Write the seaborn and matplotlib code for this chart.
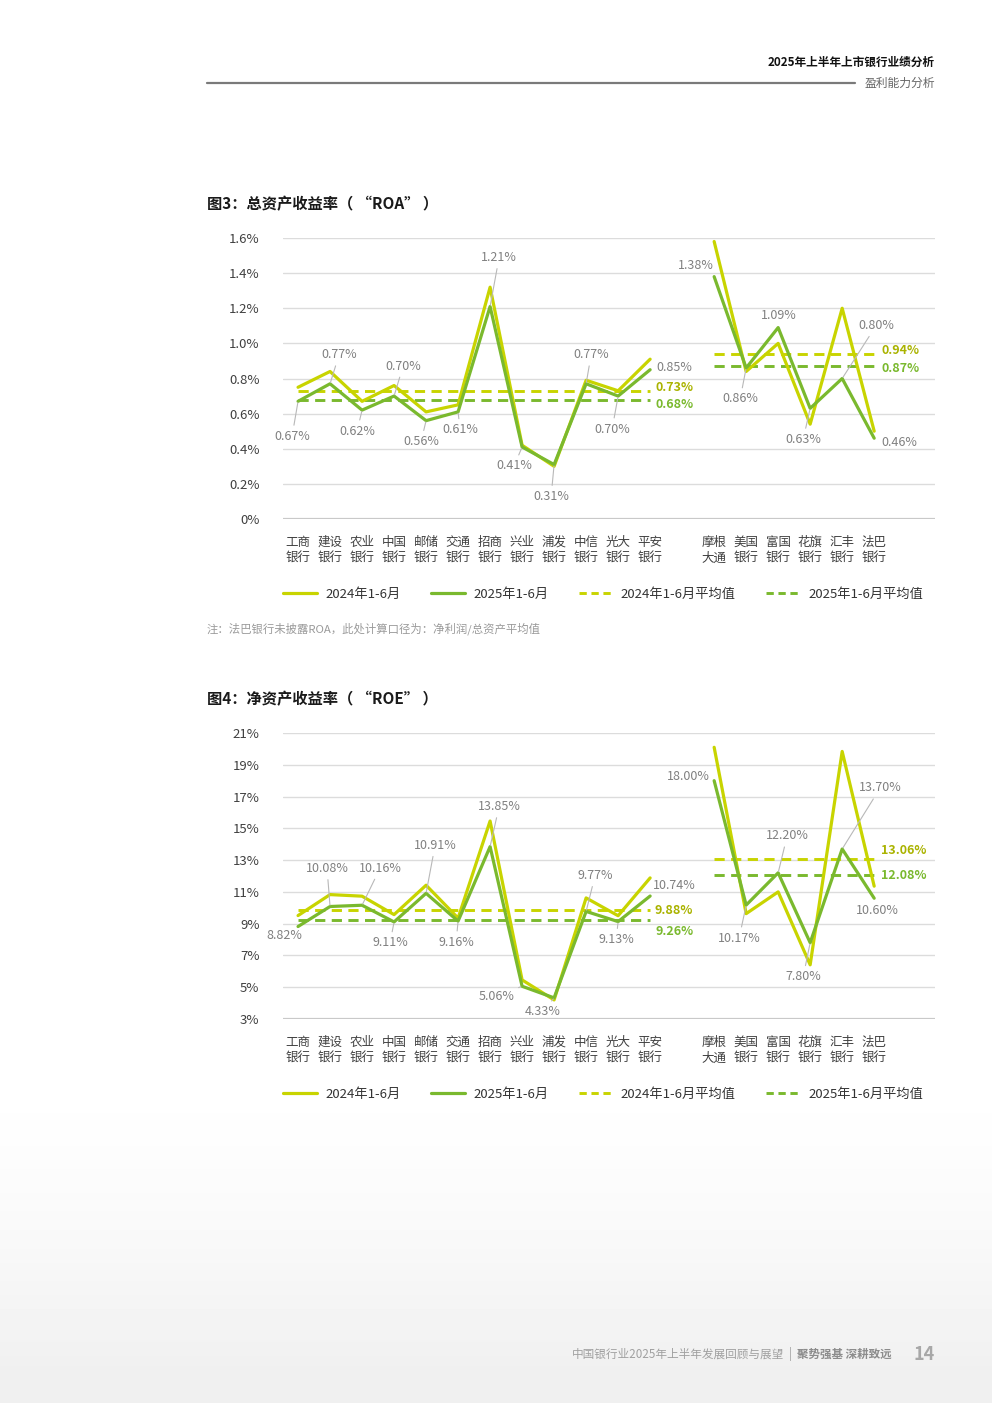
import numpy as np
import pandas as pd
import matplotlib.pyplot as plt
from matplotlib.lines import Line2D
import seaborn as sns

sns.set_style('white')
plt.rcParams['font.family'] = ['Noto Sans CJK SC', 'DejaVu Sans']

# ---- data ----
banks_cn = ['工商\n银行', '建设\n银行', '农业\n银行', '中国\n银行', '邮储\n银行', '交通\n银行',
            '招商\n银行', '兴业\n银行', '浦发\n银行', '中信\n银行', '光大\n银行', '平安\n银行']
banks_fr = ['摩根\n大通', '美国\n银行', '富国\n银行', '花旗\n银行', '汇丰\n银行', '法巴\n银行']

roa_2024_cn = [0.75, 0.84, 0.67, 0.76, 0.61, 0.65, 1.32, 0.42, 0.30, 0.79, 0.73, 0.91]
roa_2025_cn = [0.67, 0.77, 0.62, 0.70, 0.56, 0.61, 1.21, 0.41, 0.31, 0.77, 0.70, 0.85]
roa_2024_fr = [1.58, 0.84, 1.00, 0.54, 1.20, 0.50]
roa_2025_fr = [1.38, 0.86, 1.09, 0.63, 0.80, 0.46]
roa_avg_cn = [0.73, 0.68]   # 2024, 2025
roa_avg_fr = [0.94, 0.87]

roe_2024_cn = [9.51, 10.83, 10.73, 9.57, 11.42, 9.35, 15.46, 5.46, 4.20, 10.62, 9.50, 11.88]
roe_2025_cn = [8.82, 10.08, 10.16, 9.11, 10.91, 9.16, 13.85, 5.06, 4.33, 9.77, 9.13, 10.74]
roe_2024_fr = [20.10, 9.63, 11.00, 6.41, 19.84, 11.36]
roe_2025_fr = [18.00, 10.17, 12.20, 7.80, 13.70, 10.60]
roe_avg_cn = [9.88, 9.26]
roe_avg_fr = [13.06, 12.08]

roa_ticks = [0, 0.2, 0.4, 0.6, 0.8, 1.0, 1.2, 1.4, 1.6]
roa_ticklabels = ['0%', '0.2%', '0.4%', '0.6%', '0.8%', '1.0%', '1.2%', '1.4%', '1.6%']
roe_ticks = [3, 5, 7, 9, 11, 13, 15, 17, 19, 21]
roe_ticklabels = ['3%', '5%', '7%', '9%', '11%', '13%', '15%', '17%', '19%', '21%']

series = ['2024年1-6月', '2025年1-6月', '2024年1-6月平均值', '2025年1-6月平均值']

# label offsets (pixels) for the 2025 values, and whether a leader line is drawn
roa_lab_cn = [(-6, -35, 1), (9, 29, 1), (-5, -21, 1), (9, 30, 1), (-5, -21, 1), (2, -18, 1),
              (9, 49, 1), (-8, -19, 1), (-3, -32, 1), (5, 29, 1), (-6, -33, 1), (24, 2, 0)]
roa_lab_fr = [(-18, 11, 0), (-6, -31, 1), (1, 12, 0), (-7, -31, 1), (34, 53, 1), (25, -4, 0)]
roe_lab_cn = [(-14, -9, 0), (-3, 38, 1), (18, 37, 1), (-4, -21, 1), (9, 48, 1), (-2, -21, 1),
              (9, 40, 1), (-26, -10, 1), (-11, -14, 1), (9, 36, 1), (-2, -18, 1), (24, 11, 0)]
roe_lab_fr = [(-26, 4, 0), (-7, -33, 1), (9, 37, 1), (-7, -34, 1), (38, 61, 1), (3, -12, 0)]
roa_avg_lab = [(24, 3), (24, -5), (26, 3), (26, -2)]
roe_avg_lab = [(24, -1), (24, -12), (30, 9), (30, -1)]

C24 = '#c8d400'
C25 = '#7ab92e'
C24_TXT = '#aab300'
LABEL = '#808080'

pos_cn = list(range(12))
pos_fr = list(range(13, 19))


def draw_panel(ax, v24cn, v25cn, v24fr, v25fr, avg_cn, avg_fr, ticks, ticklabels,
               lab_cn, lab_fr, avg_lab, fmt):
    df = pd.DataFrame({
        'pos': pos_cn + pos_fr + pos_cn + pos_fr,
        'value': v24cn + v24fr + v25cn + v25fr,
        'series': [series[0]] * 18 + [series[1]] * 18,
        'seg': (['cn'] * 12 + ['fr'] * 6) * 2,
    })
    # grid
    for t in ticks:
        ax.axhline(t, color='#c9c9c9' if t == ticks[0] else '#dcdcdc',
                   lw=1.6 if t == ticks[0] else 1.0, zorder=0)
    # averages
    for (a24, a25), pos in [(avg_cn, pos_cn), (avg_fr, pos_fr)]:
        ax.plot([pos[0], pos[-1]], [a24, a24], color=C24, lw=2.1, ls=(0, (3.5, 2.2)), zorder=2)
        ax.plot([pos[0], pos[-1]], [a25, a25], color=C25, lw=2.1, ls=(0, (3.5, 2.2)), zorder=2)
    sns.lineplot(data=df, x='pos', y='value', hue='series', units='seg', estimator=None,
                 palette={series[0]: C24, series[1]: C25}, lw=2.3, legend=False,
                 ax=ax, zorder=3, clip_on=False)
    # value labels
    for pos, vals, labs in [(pos_cn, v25cn, lab_cn), (pos_fr, v25fr, lab_fr)]:
        for x, v, (dx, dy, lead) in zip(pos, vals, labs):
            ap = dict(arrowstyle='-', color='#b8b8b8', lw=0.8, shrinkA=1, shrinkB=1) if lead else None
            ax.annotate(fmt.format(v), xy=(x, v), xytext=(dx, dy), textcoords='offset pixels',
                        ha='center', va='center', fontsize=9, color=LABEL, arrowprops=ap, zorder=5)
    avg_vals = [(pos_cn[-1], avg_cn[0], C24_TXT), (pos_cn[-1], avg_cn[1], C25),
                (pos_fr[-1], avg_fr[0], C24_TXT), (pos_fr[-1], avg_fr[1], C25)]
    for (x, v, c), (dx, dy) in zip(avg_vals, avg_lab):
        ax.annotate(fmt.format(v), xy=(x, v), xytext=(dx, dy), textcoords='offset pixels',
                    ha='center', va='center', fontsize=9, color=c, fontweight='bold', zorder=5)

    ax.set_xlim(-0.47, 19.9)
    ax.set_ylim(ticks[0], ticks[-1])
    ax.set_yticks(ticks)
    ax.set_yticklabels(ticklabels, fontsize=9.5, color='#404040')
    ax.set_xticks(pos_cn + pos_fr)
    ax.set_xticklabels(banks_cn + banks_fr, fontsize=9, color='#404040', linespacing=1.3)
    ax.tick_params(axis='y', length=0, pad=17)
    ax.tick_params(axis='x', length=0, pad=12)
    ax.set_xlabel('')
    ax.set_ylabel('')
    sns.despine(ax=ax, left=True, bottom=True)
    ax.set_facecolor('none')


fig = plt.figure(figsize=(9.92, 14.03), dpi=100)
W, H = 992.0, 1403.0

# soft background at the bottom of the page
bg = fig.add_axes([0, 0, 1, 1], zorder=-10)
rows = np.linspace(0, 1, 300)
shade = np.clip((rows - 0.76) / 0.22, 0, 1) ** 1.5
img = 1 - 0.06 * shade[:, None] * np.ones((1, 50))
bg.imshow(img, cmap='gray', vmin=0, vmax=1, aspect='auto', extent=[0, 1, 1, 0])
bg.set_axis_off()


def fx(x):
    return x / W


def fy(y):
    return 1 - y / H


ax1 = fig.add_axes([fx(283), fy(519), fx(935) - fx(283), (519 - 238) / H])
draw_panel(ax1, roa_2024_cn, roa_2025_cn, roa_2024_fr, roa_2025_fr, roa_avg_cn, roa_avg_fr,
           roa_ticks, roa_ticklabels, roa_lab_cn, roa_lab_fr, roa_avg_lab, '{:.2f}%')

ax2 = fig.add_axes([fx(283), fy(1019), fx(935) - fx(283), (1019 - 733) / H])
draw_panel(ax2, roe_2024_cn, roe_2025_cn, roe_2024_fr, roe_2025_fr, roe_avg_cn, roe_avg_fr,
           roe_ticks, roe_ticklabels, roe_lab_cn, roe_lab_fr, roe_avg_lab, '{:.2f}%')

# legends
handles = [Line2D([], [], color=C24, lw=2.3), Line2D([], [], color=C25, lw=2.3),
           Line2D([], [], color=C24, lw=2.1, ls=(0, (2.5, 1.6))),
           Line2D([], [], color=C25, lw=2.1, ls=(0, (2.5, 1.6)))]
for ly in [594, 1094]:
    fig.legend(handles, series, loc='center left', bbox_to_anchor=(fx(283), fy(ly)), ncol=4,
               frameon=False, fontsize=9.5, handlelength=2.6, handletextpad=0.6,
               columnspacing=2.3, borderpad=0, borderaxespad=0,
               labelcolor='#333333')

# titles and notes
fig.text(fx(207), fy(204), '图3：总资产收益率（ “ROA” ）', fontsize=11, fontweight='bold',
         color='#1a1a1a', va='center', ha='left')
fig.text(fx(207), fy(699), '图4：净资产收益率（ “ROE” ）', fontsize=11, fontweight='bold',
         color='#1a1a1a', va='center', ha='left')
fig.text(fx(207), fy(629), '注：法巴银行未披露ROA，此处计算口径为：净利润/总资产平均值',
         fontsize=8.2, color='#9a9a9a', va='center', ha='left')

# page header
fig.text(fx(935), fy(62), '2025年上半年上市银行业绩分析', fontsize=8.4, fontweight='bold',
         color='#111111', va='center', ha='right')
fig.text(fx(935), fy(83), '盈利能力分析', fontsize=8.5, color='#666666', va='center', ha='right')
fig.add_artist(Line2D([fx(207), fx(855)], [fy(83), fy(83)], color='#7a7a7a', lw=1.6))

# page footer
fig.text(fx(784), fy(1354), '中国银行业2025年上半年发展回顾与展望', fontsize=8.4, color='#a0a0a0',
         va='center', ha='right')
fig.text(fx(790), fy(1354), '|', fontsize=8.4, color='#a0a0a0', va='center', ha='center')
fig.text(fx(797), fy(1354), '聚势强基 深耕致远', fontsize=8.3, fontweight='bold', color='#8c8c8c',
         va='center', ha='left')
fig.text(fx(935), fy(1354), '14', fontsize=13, fontweight='bold', color='#a8a8a8',
         va='center', ha='right')

fig.savefig('out.png', dpi=100)
